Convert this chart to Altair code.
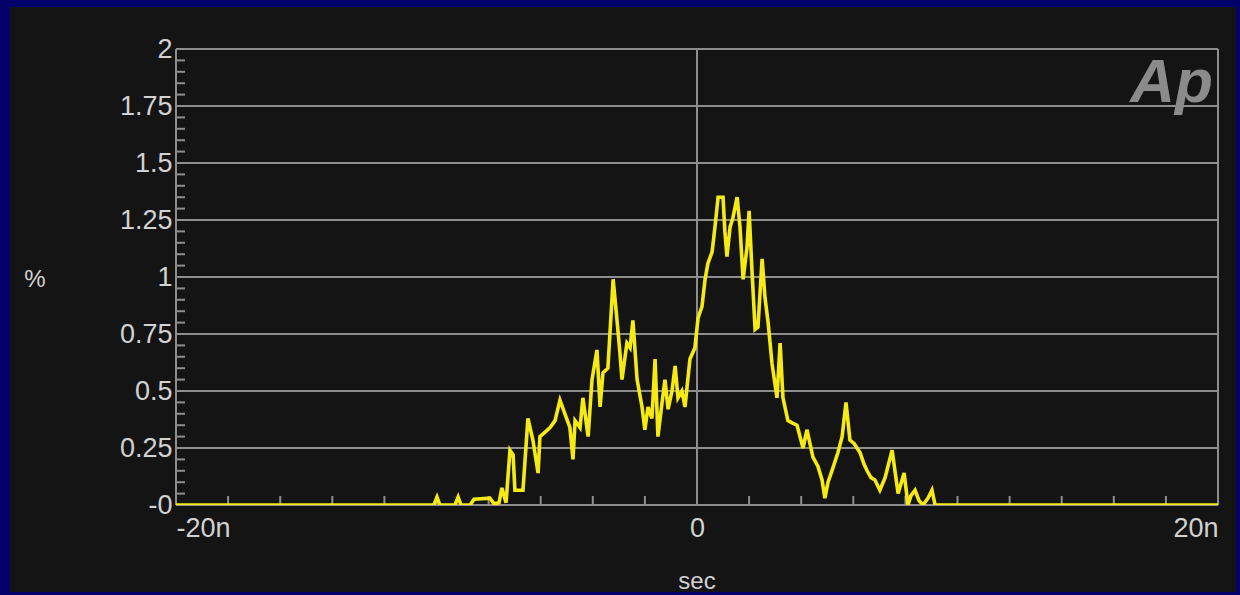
import altair as alt
import pandas as pd

# Time-interval error histogram: time offset (ns) vs. share of samples (%)
t_ns = [-20.0, -10.25, -10.10, -9.98, -9.87, -9.29, -9.17, -9.06, -8.71, -8.56,
        -7.95, -7.79, -7.60, -7.49, -7.33, -7.18, -7.06, -6.99, -6.68, -6.49,
        -6.30, -6.10, -6.03, -5.83, -5.64, -5.45, -5.26, -5.07, -4.88, -4.76,
        -4.68, -4.49, -4.38, -4.18, -4.03, -3.84, -3.72, -3.61, -3.42, -3.22,
        -3.07, -2.96, -2.88, -2.69, -2.57, -2.46, -2.30, -2.11, -2.00, -1.88,
        -1.73, -1.61, -1.50, -1.34, -1.23, -1.11, -0.96, -0.84, -0.73, -0.58,
        -0.46, -0.38, -0.27, -0.08, 0.04, 0.19, 0.31, 0.42, 0.58, 0.69,
        0.81, 1.00, 1.07, 1.15, 1.27, 1.38, 1.54, 1.65, 1.77, 1.92,
        2.00, 2.11, 2.23, 2.34, 2.50, 2.61, 2.73, 2.88, 3.07, 3.19,
        3.30, 3.49, 3.65, 3.84, 4.07, 4.22, 4.45, 4.64, 4.80, 4.91,
        5.03, 5.18, 5.41, 5.57, 5.72, 5.87, 6.03, 6.14, 6.26, 6.41,
        6.53, 6.68, 6.83, 7.02, 7.22, 7.49, 7.72, 7.95, 8.10, 8.21,
        8.37, 8.52, 8.68, 8.87, 9.02, 9.14, 20.0]
pct = [0.0, 0.0, 0.0, 0.035, 0.0, 0.0, 0.035, 0.0, 0.0, 0.025,
       0.03, 0.005, 0.01, 0.075, 0.01, 0.24, 0.22, 0.065, 0.065, 0.38,
       0.285, 0.14, 0.30, 0.32, 0.34, 0.37, 0.46, 0.40, 0.34, 0.20,
       0.37, 0.34, 0.47, 0.30, 0.55, 0.68, 0.43, 0.58, 0.60, 0.99,
       0.81, 0.67, 0.55, 0.71, 0.69, 0.81, 0.55, 0.43, 0.33, 0.43,
       0.38, 0.64, 0.30, 0.45, 0.55, 0.42, 0.50, 0.61, 0.47, 0.50,
       0.43, 0.52, 0.64, 0.69, 0.82, 0.87, 0.99, 1.06, 1.11, 1.22,
       1.35, 1.35, 1.20, 1.09, 1.22, 1.26, 1.35, 1.22, 0.99, 1.13,
       1.29, 1.03, 0.77, 0.78, 1.08, 0.91, 0.80, 0.62, 0.47, 0.71,
       0.47, 0.37, 0.36, 0.35, 0.25, 0.33, 0.21, 0.17, 0.11, 0.03,
       0.10, 0.15, 0.23, 0.30, 0.45, 0.285, 0.27, 0.25, 0.23, 0.18,
       0.15, 0.12, 0.11, 0.065, 0.12, 0.24, 0.05, 0.14, 0.0, 0.04,
       0.065, 0.02, 0.0, 0.03, 0.065, 0.0, 0.0]

# Axis tick labels / grid positions
y_major = [0, 0.25, 0.5, 0.75, 1, 1.25, 1.5, 1.75, 2]
y_minor = [round(i * 0.05, 2) for i in range(41)]
x_labels = [-20, 0, 20]
x_minor = [-18, -16, -14, -12, -10, -8, -6, -4, -2, 2, 4, 6, 8, 10, 12, 14, 16, 18]
x_frame = [-20, 0, 20]

W, H = 1042, 456
GRID = "#8e8e8e"
TXT = "#d2d2d2"
FONT = "Liberation Sans"

xs = alt.Scale(domain=[-20, 20], nice=False, zero=False)
ys = alt.Scale(domain=[0, 2], nice=False)

ax_x = alt.Axis(values=x_labels, title=None, grid=False, ticks=False, domain=False,
                labelExpr="datum.value == 0 ? '0' : datum.value + 'n'",
                labelFlush=True, labelPadding=10, labelFontSize=27,
                labelColor=TXT, labelFont=FONT, zindex=1)
ax_y = alt.Axis(values=y_major, title=None, grid=False, ticks=False, domain=False,
                labelExpr="datum.value == 0 ? '-0' : '' + datum.value",
                labelPadding=4, labelFontSize=27, labelColor=TXT,
                labelFont=FONT, zindex=1)

df = pd.DataFrame({"t": t_ns, "p": pct})
gy = pd.DataFrame({"p": y_major})
my = pd.DataFrame({"p": y_minor})
gx = pd.DataFrame({"t": x_frame})
mx = pd.DataFrame({"t": x_minor})

# dark panel behind the plot
panel = alt.Chart(pd.DataFrame({"a": [0]})).mark_rect(color="#141414").encode(
    x=alt.value(10 - 176), x2=alt.value(1236 - 176),
    y=alt.value(7 - 49), y2=alt.value(592 - 49))

hgrid = alt.Chart(gy).mark_rule(color=GRID, strokeWidth=2).encode(
    y=alt.Y("p:Q", scale=ys, axis=ax_y), x=alt.value(0), x2=alt.value(W))
vgrid = alt.Chart(gx).mark_rule(color=GRID, strokeWidth=2).encode(
    x=alt.X("t:Q", scale=xs, axis=ax_x), y=alt.value(0), y2=alt.value(H))
yticks = alt.Chart(my).mark_rule(color=GRID, strokeWidth=2).encode(
    y=alt.Y("p:Q", scale=ys, axis=ax_y), x=alt.value(0), x2=alt.value(9))
xticks = alt.Chart(mx).mark_rule(color=GRID, strokeWidth=2).encode(
    x=alt.X("t:Q", scale=xs, axis=ax_x), y=alt.value(H - 9), y2=alt.value(H))

trace = alt.Chart(df).mark_line(color="#f6ea14", strokeWidth=3.6,
                                strokeJoin="miter", clip=True).encode(
    x=alt.X("t:Q", scale=xs, axis=ax_x),
    y=alt.Y("p:Q", scale=ys, axis=ax_y))

def label(txt, x, y, size, **kw):
    return alt.Chart(pd.DataFrame({"s": [txt]})).mark_text(
        fontSize=size, font=FONT, **kw).encode(
        text="s:N", x=alt.value(x), y=alt.value(y))

pct_lbl = label("%", 35 - 176, 280 - 49, 24, color=TXT, align="center", baseline="middle")
sec_lbl = label("sec", 697 - 176, 582 - 49, 24, color=TXT, align="center", baseline="middle")
logo = label("Ap", 1213 - 176, 102 - 49, 62, color="#8b8b8b", align="right",
             baseline="alphabetic", fontWeight="bold", fontStyle="italic")

chart = alt.layer(panel, hgrid, vgrid, yticks, xticks, logo, trace, pct_lbl, sec_lbl).properties(
    width=W, height=H,
    background="#03016a",
    padding={"left": 176, "top": 49, "right": 22, "bottom": 90},
    autosize=alt.AutoSizeParams(type="none"),
).configure_view(stroke=None)

chart.save("out.html", embed_options={"renderer": "svg", "actions": False})
